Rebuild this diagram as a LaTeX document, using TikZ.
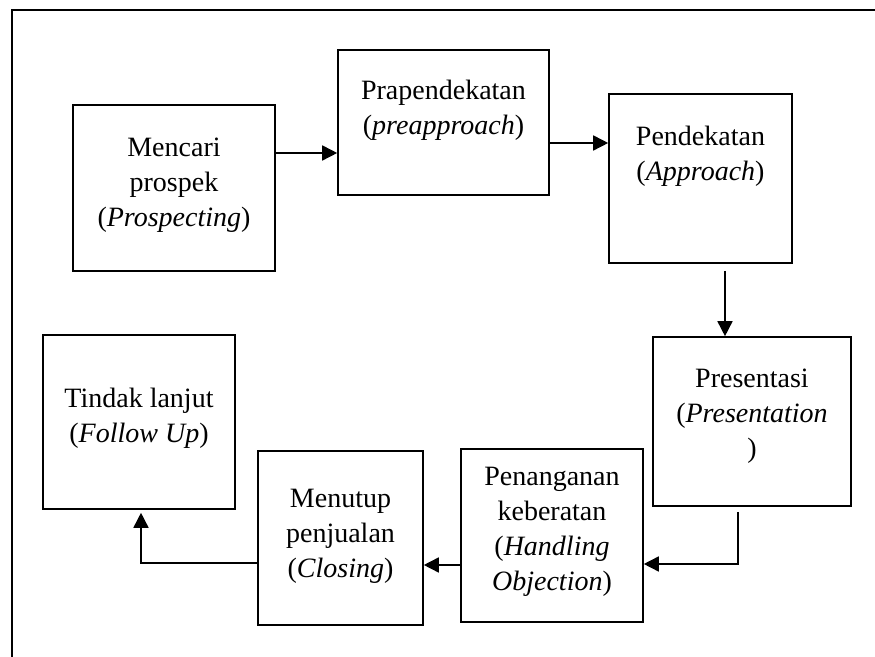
\documentclass[tikz,border=0pt]{standalone}
\usepackage{fontspec}
\setmainfont{Liberation Serif}
\usetikzlibrary{arrows.meta}

\begin{document}
\begin{tikzpicture}[x=0.5pt,y=-0.5pt,line width=0.8pt,
    arr/.style={-{Triangle[length=7.5pt,width=7.5pt]}},
    stagebox/.style={draw,rectangle,inner sep=0pt},
    stagetext/.style={align=center,inner sep=0pt,font=\fontsize{14}{17.5}\selectfont}]
\useasboundingbox (0,0) rectangle (875,657);

% outer frame, right and bottom edges fall outside the page
\draw (875,10) -- (12,10) -- (12,657);

% boxes
\node[stagebox, minimum width=101pt, minimum height=83pt] (prospek) at (174,188) {};
\node[stagebox, minimum width=105.5pt, minimum height=72.5pt] (prapendekatan) at (443.5,122.5) {};
\node[stagebox, minimum width=91.5pt, minimum height=84.5pt] (pendekatan) at (700.5,178.5) {};
\node[stagebox, minimum width=99pt, minimum height=84.5pt] (presentasi) at (752,421.5) {};
\node[stagebox, minimum width=91pt, minimum height=86.5pt] (penanganan) at (552,535.5) {};
\node[stagebox, minimum width=82.5pt, minimum height=87pt] (menutup) at (340.5,538) {};
\node[stagebox, minimum width=96pt, minimum height=87pt] (tindak) at (139,422) {};

% texts
\node[stagetext] (prospek-t) at (174,185) {Mencari\\prospek\\(\textit{Prospecting})};
\node[stagetext] (prapendekatan-t) at (443.5,110) {Prapendekatan\\(\textit{preapproach})};
\node[stagetext] (pendekatan-t) at (700.5,156) {Pendekatan\\(\textit{Approach})};
\node[stagetext] (presentasi-t) at (752,416) {Presentasi\\(\textit{Presentation}\\)};
\node[stagetext] (penanganan-t) at (552,532) {Penanganan\\keberatan\\(\textit{Handling}\\\textit{Objection})};
\node[stagetext] (menutup-t) at (340.5,536) {Menutup\\penjualan\\(\textit{Closing})};
\node[stagetext] (tindak-t) at (139,418) {Tindak lanjut\\(\textit{Follow Up})};

% arrows
\draw[arr] (prospek.east |- 0,153) -- (prapendekatan.west |- 0,153);
\draw[arr] (prapendekatan.east |- 0,143) -- (pendekatan.west |- 0,143);
\draw[arr, shorten <=3.5pt] (pendekatan.south -| 725,0) -- (presentasi.north -| 725,0);
\draw[arr, shorten <=2.5pt] (presentasi.south -| 738,0) |- (penanganan.east |- 0,564);
\draw[arr] (penanganan.west |- 0,565) -- (menutup.east |- 0,565);
\draw[arr, shorten >=1.5pt] (menutup.west |- 0,563) -| (tindak.south -| 141,0);
\end{tikzpicture}
\end{document}
